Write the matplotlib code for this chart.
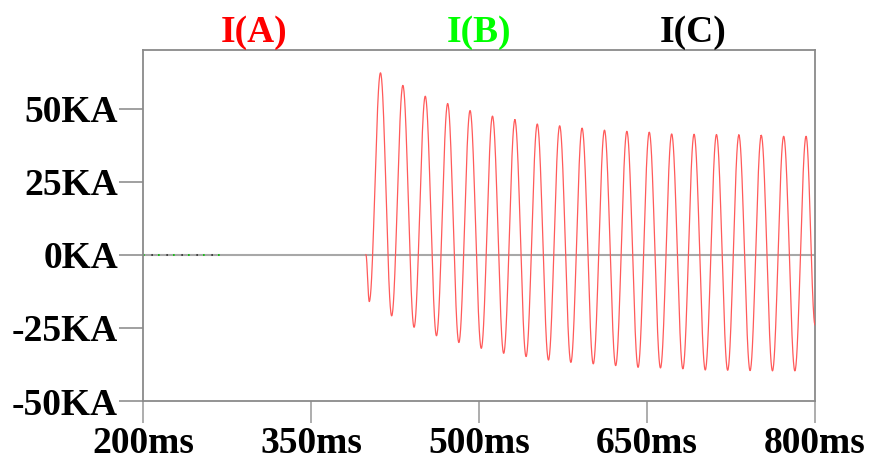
import matplotlib
matplotlib.use("Agg")
import matplotlib.pyplot as plt
import numpy as np

# Fault current, phase A: start of the fault, then the read-off peaks and troughs
fault_start_ms = 399
trough_ms = [402, 422, 442, 462, 482, 502, 522, 542, 562, 582,
             602, 622, 642, 662, 682, 702, 722, 742, 762, 782]
trough_ka = [-16.0, -20.9, -24.8, -27.7, -30.0, -32.0, -33.7, -34.8, -36.0, -36.8,
             -37.3, -37.9, -38.5, -38.7, -39.0, -39.4, -39.5, -39.6, -39.7, -39.7]
peak_ms = [412, 432, 452, 472, 492, 512, 532, 552, 572, 592,
           612, 632, 652, 672, 692, 712, 732, 752, 772, 792]
peak_ka = [62.2, 57.9, 54.2, 51.7, 49.3, 47.4, 46.1, 44.7, 44.1, 43.3,
           42.6, 42.2, 41.9, 41.3, 41.2, 41.1, 40.9, 40.8, 40.5, 40.5]
end_ms, end_ka = 800, -24.0

# Phases B and C sit at zero over the pre-fault window that is drawn
bc_ms = [200, 272]
bc_ka = [0.0, 0.0]

x_ticks = [200, 350, 500, 650, 800]
x_labels = ["200ms", "350ms", "500ms", "650ms", "800ms"]
y_ticks = [50, 25, 0, -25, -50]
y_labels = ["50KA", "25KA", "0KA", "-25KA", "-50KA"]

# Join the extrema with half-cycle cosine segments
knots_t = [fault_start_ms]
knots_v = [0.0]
for tt, tv, pt, pv in zip(trough_ms, trough_ka, peak_ms, peak_ka):
    knots_t += [tt, pt]
    knots_v += [tv, pv]
knots_t.append(end_ms)
knots_v.append(end_ka)

t_a, i_a = [], []
for k in range(len(knots_t) - 1):
    s = np.linspace(0, 1, 40)
    t_a.append(knots_t[k] + (knots_t[k + 1] - knots_t[k]) * s)
    i_a.append(knots_v[k] + (knots_v[k + 1] - knots_v[k]) * (1 - np.cos(np.pi * s)) / 2)
t_a = np.concatenate(t_a)
i_a = np.concatenate(i_a)

plt.rcParams["font.family"] = ["Liberation Serif", "DejaVu Serif"]

fig = plt.figure(figsize=(8.69, 4.63), dpi=100)
ax = fig.add_axes([0.1646, 0.1339, 0.7733, 0.7581])

ax.axhline(0, color="#a8a8a8", lw=1.5, zorder=1)
ax.plot(bc_ms, bc_ka, color="#00c000", lw=1.2, ls=(0, (1, 8)), zorder=2)
ax.plot(bc_ms, bc_ka, color="#303030", lw=1.2, ls=(4, (1, 8)), zorder=2)
ax.plot(t_a, i_a, color="#ff5a5a", lw=0.9, zorder=3)

ax.set_xlim(200, 800)
ax.set_ylim(-50, 70)
ax.set_xticks(x_ticks)
ax.set_xticklabels(x_labels)
ax.set_yticks(y_ticks)
ax.set_yticklabels(y_labels)

for side in ["left", "right", "top", "bottom"]:
    ax.spines[side].set_color("#8a8a8a")
    ax.spines[side].set_linewidth(1.3)

ax.tick_params(axis="x", direction="out", length=16, width=1.2, color="#a0a0a0",
               pad=2, labelsize=27)
ax.tick_params(axis="y", direction="out", length=17, width=1.2, color="#909090",
               pad=1, labelsize=27)
for lab in ax.get_xticklabels() + ax.get_yticklabels():
    lab.set_fontweight("bold")

fig.text(254 / 869, 1 - 33 / 463, "I(A)", color="#ff0000", fontsize=27,
         fontweight="bold", ha="center", va="center")
fig.text(479 / 869, 1 - 33 / 463, "I(B)", color="#00ff00", fontsize=27,
         fontweight="bold", ha="center", va="center")
fig.text(693 / 869, 1 - 33 / 463, "I(C)", color="#000000", fontsize=27,
         fontweight="bold", ha="center", va="center")

fig.savefig("out.png", dpi=100)
